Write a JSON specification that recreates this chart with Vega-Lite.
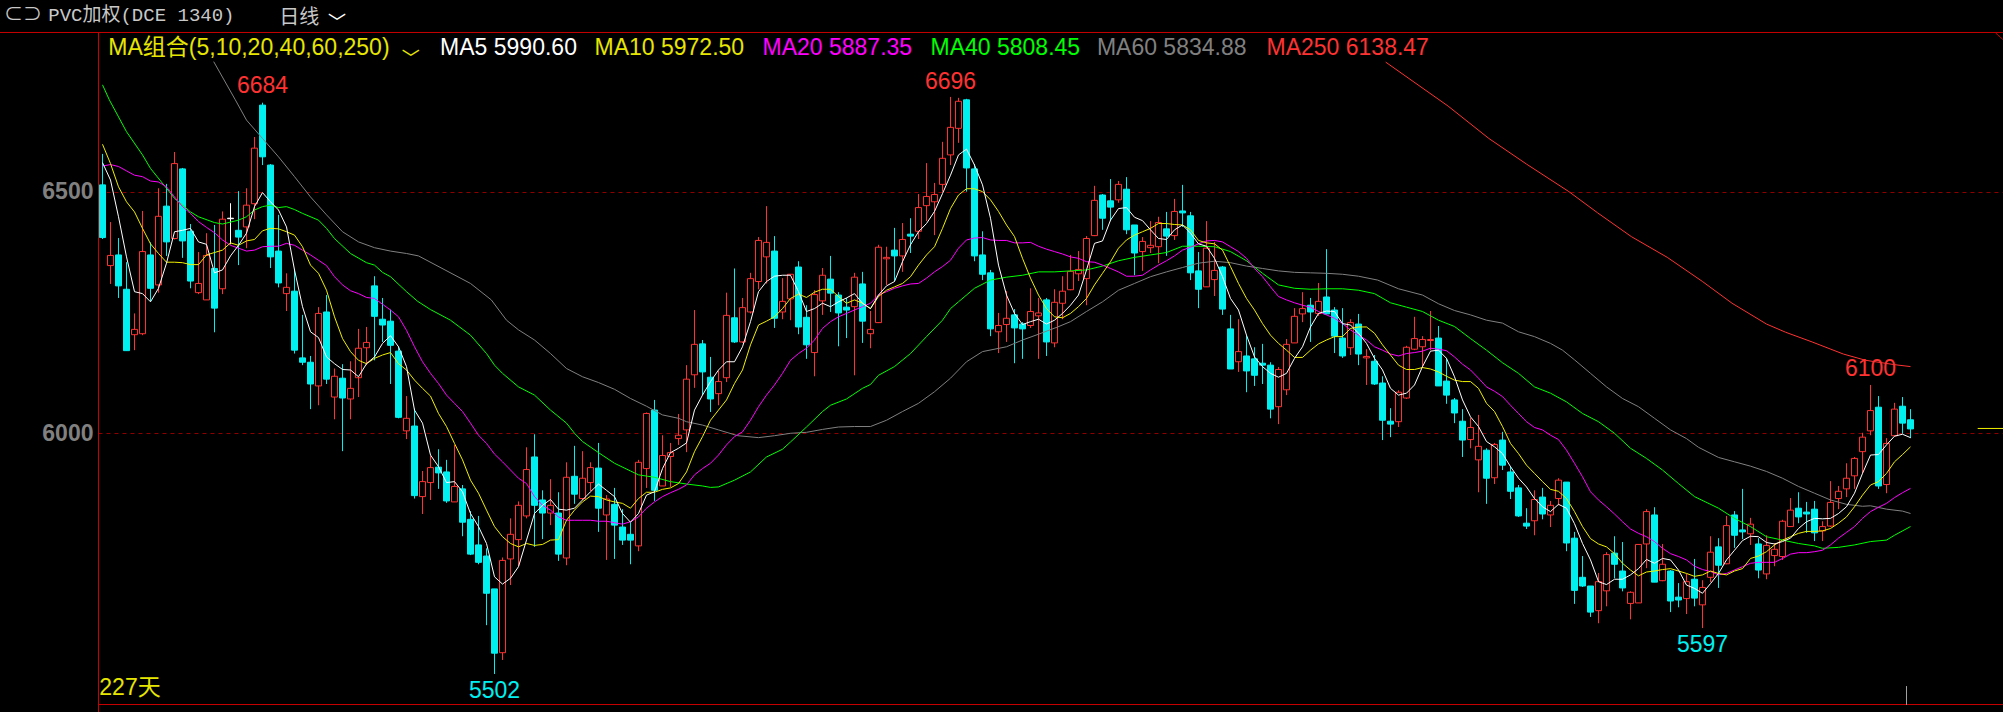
{"$schema":"https://vega.github.io/schema/vega-lite/v6.json","width":1905,"height":673,"autosize":"none","padding":{"left":98,"top":32,"right":0,"bottom":7},"background":"#000000","config":{"view":{"stroke":null},"axisY":{"grid":true,"gridColor":"#8c0000","gridDash":[4,4],"gridWidth":1,"domain":false,"ticks":false,"labelColor":"#808080","labelFont":"Liberation Sans","labelFontSize":23,"labelFontWeight":"bold","labelPadding":5,"format":"d"}},
"datasets":{"c":[
{"i":0,"o":6514,"h":6578,"l":6402,"c":6405,"d":"down","m5":6560,"m10":6598,"m20":6553},
{"i":1,"o":6347,"h":6437,"l":6309,"c":6368,"d":"up","m5":6524,"m10":6558,"m20":6556},
{"i":2,"o":6369,"h":6404,"l":6280,"c":6305,"d":"down","m5":6448,"m10":6510,"m20":6552},
{"i":3,"o":6298,"h":6354,"l":6171,"c":6171,"d":"down","m5":6365,"m10":6479,"m20":6543},
{"i":4,"o":6204,"h":6248,"l":6172,"c":6215,"d":"up","m5":6293,"m10":6458,"m20":6534},
{"i":5,"o":6206,"h":6460,"l":6203,"c":6376,"d":"up","m5":6289,"m10":6424,"m20":6531},
{"i":6,"o":6369,"h":6395,"l":6273,"c":6300,"d":"down","m5":6272,"m10":6392,"m20":6522},
{"i":7,"o":6307,"h":6507,"l":6291,"c":6449,"d":"up","m5":6300,"m10":6372,"m20":6520},
{"i":8,"o":6470,"h":6516,"l":6367,"c":6396,"d":"down","m5":6352,"m10":6354,"m20":6510},
{"i":9,"o":6403,"h":6582,"l":6401,"c":6558,"d":"up","m5":6417,"m10":6354,"m20":6489},
{"i":10,"o":6547,"h":6549,"l":6363,"c":6398,"d":"down","m5":6420,"m10":6353,"m20":6469},
{"i":11,"o":6418,"h":6433,"l":6300,"c":6315,"d":"down","m5":6424,"m10":6349,"m20":6455},
{"i":12,"o":6291,"h":6375,"l":6288,"c":6310,"d":"up","m5":6396,"m10":6349,"m20":6438},
{"i":13,"o":6276,"h":6414,"l":6276,"c":6368,"d":"up","m5":6391,"m10":6369,"m20":6426},
{"i":14,"o":6341,"h":6431,"l":6209,"c":6259,"d":"down","m5":6332,"m10":6374,"m20":6415},
{"i":15,"o":6299,"h":6459,"l":6288,"c":6443,"d":"up","m5":6338,"m10":6379,"m20":6400},
{"i":16,"o":6445,"h":6476,"l":6391,"c":6444,"d":"flat","m5":6367,"m10":6394,"m20":6389},
{"i":17,"o":6420,"h":6501,"l":6348,"c":6406,"d":"down","m5":6389,"m10":6389,"m20":6383},
{"i":18,"o":6427,"h":6507,"l":6383,"c":6472,"d":"up","m5":6414,"m10":6398,"m20":6377},
{"i":19,"o":6475,"h":6613,"l":6443,"c":6590,"d":"up","m5":6469,"m10":6401,"m20":6379},
{"i":20,"o":6679,"h":6684,"l":6555,"c":6572,"d":"down","m5":6498,"m10":6419,"m20":6386},
{"i":21,"o":6555,"h":6557,"l":6342,"c":6365,"d":"down","m5":6479,"m10":6424,"m20":6387},
{"i":22,"o":6377,"h":6452,"l":6302,"c":6311,"d":"down","m5":6462,"m10":6423,"m20":6387},
{"i":23,"o":6289,"h":6331,"l":6253,"c":6302,"d":"up","m5":6427,"m10":6417,"m20":6393},
{"i":24,"o":6294,"h":6340,"l":6165,"c":6172,"d":"down","m5":6338,"m10":6410,"m20":6389},
{"i":25,"o":6156,"h":6245,"l":6141,"c":6147,"d":"down","m5":6262,"m10":6386,"m20":6379},
{"i":26,"o":6147,"h":6160,"l":6050,"c":6102,"d":"down","m5":6210,"m10":6348,"m20":6369},
{"i":27,"o":6098,"h":6261,"l":6058,"c":6248,"d":"up","m5":6198,"m10":6331,"m20":6358},
{"i":28,"o":6251,"h":6286,"l":6102,"c":6112,"d":"down","m5":6158,"m10":6296,"m20":6347},
{"i":29,"o":6075,"h":6134,"l":6029,"c":6118,"d":"up","m5":6144,"m10":6241,"m20":6324},
{"i":30,"o":6114,"h":6143,"l":5963,"c":6073,"d":"down","m5":6132,"m10":6196,"m20":6307},
{"i":31,"o":6071,"h":6149,"l":6029,"c":6093,"d":"up","m5":6131,"m10":6169,"m20":6295},
{"i":32,"o":6115,"h":6216,"l":6075,"c":6176,"d":"up","m5":6117,"m10":6151,"m20":6289},
{"i":33,"o":6177,"h":6220,"l":6141,"c":6188,"d":"up","m5":6144,"m10":6144,"m20":6281},
{"i":34,"o":6305,"h":6325,"l":6151,"c":6242,"d":"down","m5":6158,"m10":6155,"m20":6279},
{"i":35,"o":6236,"h":6280,"l":6189,"c":6224,"d":"down","m5":6186,"m10":6162,"m20":6267},
{"i":36,"o":6232,"h":6256,"l":6102,"c":6182,"d":"down","m5":6202,"m10":6167,"m20":6255},
{"i":37,"o":6170,"h":6180,"l":6031,"c":6033,"d":"down","m5":6179,"m10":6144,"m20":6241},
{"i":38,"o":6005,"h":6077,"l":5988,"c":6031,"d":"up","m5":6138,"m10":6131,"m20":6213},
{"i":39,"o":6015,"h":6051,"l":5865,"c":5871,"d":"down","m5":6048,"m10":6110,"m20":6179},
{"i":40,"o":5869,"h":5922,"l":5833,"c":5900,"d":"up","m5":6021,"m10":6093,"m20":6148},
{"i":41,"o":5898,"h":5953,"l":5862,"c":5929,"d":"up","m5":5955,"m10":6077,"m20":6124},
{"i":42,"o":5930,"h":5967,"l":5885,"c":5918,"d":"down","m5":5931,"m10":6041,"m20":6103},
{"i":43,"o":5920,"h":5945,"l":5856,"c":5860,"d":"down","m5":5898,"m10":6014,"m20":6079},
{"i":44,"o":5858,"h":5976,"l":5858,"c":5890,"d":"up","m5":5900,"m10":5979,"m20":6062},
{"i":45,"o":5885,"h":5893,"l":5787,"c":5816,"d":"down","m5":5879,"m10":5945,"m20":6045},
{"i":46,"o":5822,"h":5839,"l":5748,"c":5750,"d":"down","m5":5834,"m10":5903,"m20":6021},
{"i":47,"o":5769,"h":5829,"l":5729,"c":5733,"d":"down","m5":5807,"m10":5876,"m20":5996},
{"i":48,"o":5746,"h":5762,"l":5603,"c":5669,"d":"down","m5":5772,"m10":5841,"m20":5979},
{"i":49,"o":5678,"h":5678,"l":5502,"c":5545,"d":"down","m5":5703,"m10":5807,"m20":5957},
{"i":50,"o":5546,"h":5743,"l":5531,"c":5737,"d":"up","m5":5688,"m10":5786,"m20":5941},
{"i":51,"o":5740,"h":5824,"l":5686,"c":5791,"d":"up","m5":5700,"m10":5772,"m20":5924},
{"i":52,"o":5780,"h":5859,"l":5725,"c":5851,"d":"up","m5":5724,"m10":5765,"m20":5907},
{"i":53,"o":5829,"h":5971,"l":5824,"c":5925,"d":"up","m5":5779,"m10":5772,"m20":5896},
{"i":54,"o":5951,"h":5998,"l":5765,"c":5851,"d":"down","m5":5834,"m10":5768,"m20":5869},
{"i":55,"o":5862,"h":5882,"l":5781,"c":5835,"d":"down","m5":5851,"m10":5770,"m20":5851},
{"i":56,"o":5835,"h":5905,"l":5810,"c":5851,"d":"up","m5":5863,"m10":5779,"m20":5841},
{"i":57,"o":5835,"h":5878,"l":5736,"c":5750,"d":"down","m5":5843,"m10":5780,"m20":5827},
{"i":58,"o":5742,"h":5940,"l":5727,"c":5909,"d":"up","m5":5841,"m10":5820,"m20":5820},
{"i":59,"o":5911,"h":5974,"l":5854,"c":5874,"d":"down","m5":5845,"m10":5841,"m20":5820},
{"i":60,"o":5865,"h":5963,"l":5862,"c":5907,"d":"up","m5":5862,"m10":5858,"m20":5820},
{"i":61,"o":5898,"h":5940,"l":5880,"c":5929,"d":"up","m5":5879,"m10":5870,"m20":5820},
{"i":62,"o":5928,"h":5980,"l":5796,"c":5845,"d":"down","m5":5895,"m10":5869,"m20":5818},
{"i":63,"o":5831,"h":5872,"l":5738,"c":5864,"d":"up","m5":5882,"m10":5862,"m20":5818},
{"i":64,"o":5853,"h":5887,"l":5740,"c":5810,"d":"down","m5":5869,"m10":5858,"m20":5815},
{"i":65,"o":5806,"h":5843,"l":5769,"c":5779,"d":"down","m5":5834,"m10":5855,"m20":5812},
{"i":66,"o":5791,"h":5816,"l":5729,"c":5779,"d":"down","m5":5816,"m10":5845,"m20":5817},
{"i":67,"o":5767,"h":5945,"l":5756,"c":5940,"d":"up","m5":5834,"m10":5865,"m20":5827},
{"i":68,"o":5927,"h":6043,"l":5887,"c":6041,"d":"up","m5":5872,"m10":5878,"m20":5845},
{"i":69,"o":6048,"h":6069,"l":5860,"c":5882,"d":"down","m5":5879,"m10":5878,"m20":5858},
{"i":70,"o":5891,"h":5996,"l":5891,"c":5954,"d":"up","m5":5927,"m10":5884,"m20":5869},
{"i":71,"o":5952,"h":5980,"l":5889,"c":5960,"d":"up","m5":5960,"m10":5887,"m20":5877},
{"i":72,"o":5989,"h":6040,"l":5976,"c":5996,"d":"up","m5":5969,"m10":5896,"m20":5884},
{"i":73,"o":6007,"h":6141,"l":5961,"c":6112,"d":"up","m5":5980,"m10":5920,"m20":5893},
{"i":74,"o":6121,"h":6255,"l":6094,"c":6184,"d":"up","m5":6048,"m10":5962,"m20":5914},
{"i":75,"o":6185,"h":6193,"l":6079,"c":6127,"d":"down","m5":6079,"m10":5993,"m20":5927},
{"i":76,"o":6116,"h":6158,"l":6044,"c":6071,"d":"down","m5":6107,"m10":6027,"m20":5938},
{"i":77,"o":6082,"h":6129,"l":6058,"c":6107,"d":"up","m5":6131,"m10":6048,"m20":5955},
{"i":78,"o":6115,"h":6291,"l":6106,"c":6244,"d":"up","m5":6148,"m10":6069,"m20":5976},
{"i":79,"o":6239,"h":6341,"l":6187,"c":6189,"d":"down","m5":6148,"m10":6103,"m20":5993},
{"i":80,"o":6189,"h":6280,"l":6187,"c":6260,"d":"up","m5":6179,"m10":6131,"m20":6003},
{"i":81,"o":6251,"h":6332,"l":6248,"c":6320,"d":"up","m5":6231,"m10":6183,"m20":6027},
{"i":82,"o":6314,"h":6406,"l":6298,"c":6399,"d":"up","m5":6293,"m10":6224,"m20":6055},
{"i":83,"o":6365,"h":6470,"l":6310,"c":6395,"d":"up","m5":6314,"m10":6232,"m20":6079},
{"i":84,"o":6377,"h":6408,"l":6218,"c":6238,"d":"down","m5":6325,"m10":6241,"m20":6100},
{"i":85,"o":6251,"h":6321,"l":6236,"c":6273,"d":"up","m5":6327,"m10":6258,"m20":6124},
{"i":86,"o":6278,"h":6329,"l":6234,"c":6329,"d":"up","m5":6327,"m10":6279,"m20":6151},
{"i":87,"o":6344,"h":6356,"l":6205,"c":6220,"d":"down","m5":6293,"m10":6288,"m20":6165},
{"i":88,"o":6240,"h":6265,"l":6154,"c":6183,"d":"down","m5":6252,"m10":6281,"m20":6176},
{"i":89,"o":6167,"h":6296,"l":6118,"c":6287,"d":"up","m5":6258,"m10":6292,"m20":6193},
{"i":90,"o":6274,"h":6342,"l":6245,"c":6327,"d":"up","m5":6269,"m10":6298,"m20":6217},
{"i":91,"o":6319,"h":6367,"l":6251,"c":6290,"d":"down","m5":6262,"m10":6298,"m20":6231},
{"i":92,"o":6286,"h":6292,"l":6180,"c":6249,"d":"down","m5":6272,"m10":6283,"m20":6241},
{"i":93,"o":6261,"h":6280,"l":6197,"c":6255,"d":"down","m5":6280,"m10":6269,"m20":6248},
{"i":94,"o":6262,"h":6332,"l":6120,"c":6323,"d":"up","m5":6289,"m10":6276,"m20":6255},
{"i":95,"o":6309,"h":6334,"l":6187,"c":6232,"d":"down","m5":6269,"m10":6269,"m20":6262},
{"i":96,"o":6206,"h":6253,"l":6176,"c":6215,"d":"up","m5":6258,"m10":6258,"m20":6269},
{"i":97,"o":6229,"h":6390,"l":6228,"c":6385,"d":"up","m5":6286,"m10":6283,"m20":6286},
{"i":98,"o":6361,"h":6386,"l":6307,"c":6364,"d":"up","m5":6305,"m10":6296,"m20":6293},
{"i":99,"o":6379,"h":6425,"l":6314,"c":6367,"d":"down","m5":6314,"m10":6303,"m20":6300},
{"i":100,"o":6367,"h":6435,"l":6334,"c":6401,"d":"up","m5":6355,"m10":6310,"m20":6305},
{"i":101,"o":6412,"h":6445,"l":6373,"c":6408,"d":"down","m5":6390,"m10":6324,"m20":6309},
{"i":102,"o":6418,"h":6495,"l":6402,"c":6467,"d":"up","m5":6417,"m10":6348,"m20":6310},
{"i":103,"o":6471,"h":6559,"l":6439,"c":6490,"d":"up","m5":6434,"m10":6369,"m20":6321},
{"i":104,"o":6479,"h":6518,"l":6410,"c":6494,"d":"up","m5":6459,"m10":6386,"m20":6334},
{"i":105,"o":6515,"h":6603,"l":6500,"c":6569,"d":"up","m5":6496,"m10":6424,"m20":6345},
{"i":106,"o":6576,"h":6696,"l":6555,"c":6633,"d":"up","m5":6534,"m10":6465,"m20":6358},
{"i":107,"o":6631,"h":6694,"l":6601,"c":6687,"d":"up","m5":6576,"m10":6493,"m20":6383},
{"i":108,"o":6690,"h":6692,"l":6500,"c":6549,"d":"down","m5":6588,"m10":6506,"m20":6400},
{"i":109,"o":6547,"h":6557,"l":6356,"c":6367,"d":"down","m5":6555,"m10":6506,"m20":6404},
{"i":110,"o":6369,"h":6418,"l":6317,"c":6329,"d":"down","m5":6514,"m10":6500,"m20":6405},
{"i":111,"o":6332,"h":6338,"l":6201,"c":6216,"d":"down","m5":6445,"m10":6483,"m20":6400},
{"i":112,"o":6210,"h":6249,"l":6166,"c":6223,"d":"up","m5":6348,"m10":6459,"m20":6399},
{"i":113,"o":6225,"h":6294,"l":6189,"c":6238,"d":"up","m5":6286,"m10":6431,"m20":6399},
{"i":114,"o":6245,"h":6257,"l":6145,"c":6218,"d":"down","m5":6248,"m10":6407,"m20":6394},
{"i":115,"o":6226,"h":6230,"l":6154,"c":6216,"d":"down","m5":6225,"m10":6362,"m20":6394},
{"i":116,"o":6223,"h":6300,"l":6218,"c":6252,"d":"up","m5":6231,"m10":6321,"m20":6395},
{"i":117,"o":6243,"h":6280,"l":6154,"c":6249,"d":"up","m5":6236,"m10":6286,"m20":6387},
{"i":118,"o":6276,"h":6280,"l":6160,"c":6189,"d":"down","m5":6226,"m10":6258,"m20":6381},
{"i":119,"o":6187,"h":6298,"l":6178,"c":6271,"d":"up","m5":6234,"m10":6241,"m20":6376},
{"i":120,"o":6269,"h":6325,"l":6236,"c":6294,"d":"up","m5":6248,"m10":6239,"m20":6371},
{"i":121,"o":6297,"h":6369,"l":6296,"c":6335,"d":"up","m5":6265,"m10":6248,"m20":6365},
{"i":122,"o":6330,"h":6377,"l":6315,"c":6339,"d":"up","m5":6286,"m10":6262,"m20":6362},
{"i":123,"o":6320,"h":6408,"l":6265,"c":6403,"d":"up","m5":6338,"m10":6279,"m20":6355},
{"i":124,"o":6409,"h":6512,"l":6408,"c":6482,"d":"up","m5":6393,"m10":6307,"m20":6354},
{"i":125,"o":6493,"h":6495,"l":6421,"c":6445,"d":"down","m5":6398,"m10":6331,"m20":6348},
{"i":126,"o":6481,"h":6526,"l":6439,"c":6468,"d":"down","m5":6441,"m10":6355,"m20":6341},
{"i":127,"o":6483,"h":6522,"l":6477,"c":6515,"d":"up","m5":6465,"m10":6383,"m20":6334},
{"i":128,"o":6505,"h":6530,"l":6412,"c":6421,"d":"down","m5":6467,"m10":6400,"m20":6325},
{"i":129,"o":6431,"h":6431,"l":6327,"c":6373,"d":"down","m5":6447,"m10":6410,"m20":6325},
{"i":130,"o":6376,"h":6406,"l":6336,"c":6397,"d":"up","m5":6440,"m10":6417,"m20":6327},
{"i":131,"o":6384,"h":6439,"l":6373,"c":6389,"d":"up","m5":6421,"m10":6424,"m20":6338},
{"i":132,"o":6386,"h":6448,"l":6352,"c":6436,"d":"up","m5":6403,"m10":6434,"m20":6348},
{"i":133,"o":6423,"h":6458,"l":6367,"c":6408,"d":"down","m5":6401,"m10":6434,"m20":6357},
{"i":134,"o":6409,"h":6485,"l":6400,"c":6459,"d":"up","m5":6421,"m10":6432,"m20":6367},
{"i":135,"o":6460,"h":6514,"l":6427,"c":6456,"d":"down","m5":6431,"m10":6431,"m20":6379},
{"i":136,"o":6450,"h":6458,"l":6317,"c":6332,"d":"down","m5":6414,"m10":6421,"m20":6385},
{"i":137,"o":6336,"h":6375,"l":6259,"c":6298,"d":"down","m5":6392,"m10":6399,"m20":6392},
{"i":138,"o":6303,"h":6439,"l":6303,"c":6383,"d":"up","m5":6387,"m10":6394,"m20":6398},
{"i":139,"o":6318,"h":6396,"l":6284,"c":6337,"d":"up","m5":6362,"m10":6392,"m20":6399},
{"i":140,"o":6344,"h":6346,"l":6245,"c":6257,"d":"down","m5":6324,"m10":6379,"m20":6396},
{"i":141,"o":6216,"h":6245,"l":6133,"c":6133,"d":"down","m5":6279,"m10":6345,"m20":6386},
{"i":142,"o":6148,"h":6236,"l":6127,"c":6169,"d":"up","m5":6255,"m10":6310,"m20":6376},
{"i":143,"o":6160,"h":6203,"l":6085,"c":6129,"d":"down","m5":6203,"m10":6279,"m20":6362},
{"i":144,"o":6154,"h":6178,"l":6098,"c":6120,"d":"down","m5":6158,"m10":6255,"m20":6341},
{"i":145,"o":6145,"h":6185,"l":6102,"c":6141,"d":"down","m5":6138,"m10":6227,"m20":6324},
{"i":146,"o":6141,"h":6147,"l":6031,"c":6050,"d":"down","m5":6124,"m10":6203,"m20":6303},
{"i":147,"o":6055,"h":6137,"l":6019,"c":6132,"d":"up","m5":6116,"m10":6186,"m20":6283},
{"i":148,"o":6090,"h":6195,"l":6079,"c":6184,"d":"up","m5":6124,"m10":6172,"m20":6276},
{"i":149,"o":6187,"h":6259,"l":6187,"c":6242,"d":"up","m5":6155,"m10":6157,"m20":6270},
{"i":150,"o":6247,"h":6292,"l":6230,"c":6258,"d":"up","m5":6179,"m10":6157,"m20":6265},
{"i":151,"o":6265,"h":6280,"l":6189,"c":6251,"d":"down","m5":6220,"m10":6172,"m20":6261},
{"i":152,"o":6248,"h":6311,"l":6243,"c":6273,"d":"up","m5":6248,"m10":6185,"m20":6252},
{"i":153,"o":6282,"h":6381,"l":6246,"c":6247,"d":"down","m5":6253,"m10":6193,"m20":6245},
{"i":154,"o":6255,"h":6261,"l":6166,"c":6201,"d":"down","m5":6252,"m10":6200,"m20":6238},
{"i":155,"o":6197,"h":6259,"l":6156,"c":6160,"d":"down","m5":6227,"m10":6200,"m20":6227},
{"i":156,"o":6177,"h":6236,"l":6162,"c":6229,"d":"up","m5":6224,"m10":6217,"m20":6214},
{"i":157,"o":6226,"h":6247,"l":6141,"c":6164,"d":"down","m5":6207,"m10":6220,"m20":6203},
{"i":158,"o":6156,"h":6174,"l":6100,"c":6159,"d":"up","m5":6186,"m10":6220,"m20":6193},
{"i":159,"o":6149,"h":6162,"l":6100,"c":6102,"d":"down","m5":6155,"m10":6207,"m20":6179},
{"i":160,"o":6104,"h":6118,"l":5986,"c":6027,"d":"down","m5":6131,"m10":6183,"m20":6172},
{"i":161,"o":6025,"h":6052,"l":5992,"c":6019,"d":"down","m5":6093,"m10":6162,"m20":6164},
{"i":162,"o":6024,"h":6089,"l":6013,"c":6085,"d":"up","m5":6079,"m10":6141,"m20":6160},
{"i":163,"o":6073,"h":6181,"l":6071,"c":6178,"d":"up","m5":6083,"m10":6132,"m20":6165},
{"i":164,"o":6174,"h":6241,"l":6172,"c":6196,"d":"up","m5":6100,"m10":6132,"m20":6167},
{"i":165,"o":6179,"h":6201,"l":6135,"c":6194,"d":"up","m5":6138,"m10":6136,"m20":6170},
{"i":166,"o":6192,"h":6253,"l":6172,"c":6194,"d":"up","m5":6170,"m10":6133,"m20":6176},
{"i":167,"o":6197,"h":6222,"l":6098,"c":6098,"d":"down","m5":6172,"m10":6127,"m20":6174},
{"i":168,"o":6108,"h":6156,"l":6061,"c":6079,"d":"down","m5":6155,"m10":6118,"m20":6171},
{"i":169,"o":6069,"h":6073,"l":6021,"c":6042,"d":"down","m5":6117,"m10":6110,"m20":6158},
{"i":170,"o":6025,"h":6050,"l":5951,"c":5986,"d":"down","m5":6069,"m10":6107,"m20":6143},
{"i":171,"o":5987,"h":6032,"l":5969,"c":6012,"d":"up","m5":6034,"m10":6107,"m20":6131},
{"i":172,"o":5945,"h":6038,"l":5878,"c":5973,"d":"up","m5":6014,"m10":6093,"m20":6114},
{"i":173,"o":5965,"h":5969,"l":5854,"c":5907,"d":"down","m5":5983,"m10":6062,"m20":6096},
{"i":174,"o":5908,"h":5980,"l":5895,"c":5977,"d":"up","m5":5972,"m10":6045,"m20":6087},
{"i":175,"o":5986,"h":6003,"l":5924,"c":5934,"d":"down","m5":5958,"m10":6014,"m20":6076},
{"i":176,"o":5920,"h":5932,"l":5864,"c":5880,"d":"down","m5":5931,"m10":5979,"m20":6058},
{"i":177,"o":5887,"h":5893,"l":5827,"c":5829,"d":"down","m5":5907,"m10":5958,"m20":6041},
{"i":178,"o":5814,"h":5845,"l":5802,"c":5808,"d":"down","m5":5889,"m10":5934,"m20":6024},
{"i":179,"o":5819,"h":5882,"l":5789,"c":5863,"d":"up","m5":5865,"m10":5917,"m20":6012},
{"i":180,"o":5868,"h":5887,"l":5822,"c":5833,"d":"down","m5":5848,"m10":5900,"m20":6007},
{"i":181,"o":5831,"h":5860,"l":5806,"c":5851,"d":"up","m5":5838,"m10":5884,"m20":5996},
{"i":182,"o":5865,"h":5907,"l":5851,"c":5903,"d":"up","m5":5853,"m10":5880,"m20":5987},
{"i":183,"o":5899,"h":5899,"l":5756,"c":5773,"d":"down","m5":5845,"m10":5865,"m20":5965},
{"i":184,"o":5783,"h":5796,"l":5647,"c":5675,"d":"down","m5":5813,"m10":5838,"m20":5938},
{"i":185,"o":5702,"h":5746,"l":5682,"c":5684,"d":"down","m5":5772,"m10":5807,"m20":5910},
{"i":186,"o":5684,"h":5684,"l":5620,"c":5630,"d":"down","m5":5738,"m10":5782,"m20":5879},
{"i":187,"o":5633,"h":5711,"l":5607,"c":5693,"d":"up","m5":5693,"m10":5771,"m20":5862},
{"i":188,"o":5674,"h":5754,"l":5642,"c":5749,"d":"up","m5":5687,"m10":5765,"m20":5848},
{"i":189,"o":5752,"h":5787,"l":5700,"c":5729,"d":"down","m5":5698,"m10":5751,"m20":5833},
{"i":190,"o":5715,"h":5775,"l":5673,"c":5680,"d":"down","m5":5698,"m10":5731,"m20":5817},
{"i":191,"o":5648,"h":5673,"l":5615,"c":5671,"d":"up","m5":5707,"m10":5717,"m20":5802},
{"i":192,"o":5649,"h":5770,"l":5649,"c":5770,"d":"up","m5":5720,"m10":5705,"m20":5793},
{"i":193,"o":5771,"h":5843,"l":5721,"c":5838,"d":"up","m5":5739,"m10":5713,"m20":5786},
{"i":194,"o":5831,"h":5847,"l":5692,"c":5692,"d":"down","m5":5731,"m10":5715,"m20":5776},
{"i":195,"o":5695,"h":5771,"l":5694,"c":5729,"d":"up","m5":5741,"m10":5718,"m20":5762},
{"i":196,"o":5715,"h":5717,"l":5630,"c":5653,"d":"down","m5":5738,"m10":5720,"m20":5751},
{"i":197,"o":5661,"h":5690,"l":5640,"c":5655,"d":"down","m5":5717,"m10":5715,"m20":5745},
{"i":198,"o":5658,"h":5709,"l":5626,"c":5693,"d":"up","m5":5686,"m10":5710,"m20":5738},
{"i":199,"o":5698,"h":5740,"l":5642,"c":5659,"d":"down","m5":5679,"m10":5704,"m20":5725},
{"i":200,"o":5645,"h":5696,"l":5597,"c":5681,"d":"up","m5":5669,"m10":5707,"m20":5718},
{"i":201,"o":5702,"h":5787,"l":5692,"c":5754,"d":"up","m5":5689,"m10":5715,"m20":5714},
{"i":202,"o":5765,"h":5783,"l":5680,"c":5727,"d":"down","m5":5710,"m10":5710,"m20":5707},
{"i":203,"o":5730,"h":5829,"l":5729,"c":5809,"d":"up","m5":5738,"m10":5707,"m20":5710},
{"i":204,"o":5831,"h":5839,"l":5763,"c":5789,"d":"down","m5":5758,"m10":5715,"m20":5717},
{"i":205,"o":5800,"h":5885,"l":5781,"c":5796,"d":"down","m5":5778,"m10":5720,"m20":5724},
{"i":206,"o":5792,"h":5825,"l":5769,"c":5812,"d":"up","m5":5787,"m10":5741,"m20":5731},
{"i":207,"o":5771,"h":5783,"l":5700,"c":5717,"d":"down","m5":5786,"m10":5746,"m20":5733},
{"i":208,"o":5709,"h":5789,"l":5698,"c":5768,"d":"up","m5":5774,"m10":5755,"m20":5733},
{"i":209,"o":5747,"h":5773,"l":5725,"c":5760,"d":"up","m5":5771,"m10":5769,"m20":5733},
{"i":210,"o":5745,"h":5821,"l":5738,"c":5818,"d":"up","m5":5776,"m10":5779,"m20":5741},
{"i":211,"o":5807,"h":5866,"l":5806,"c":5841,"d":"up","m5":5783,"m10":5786,"m20":5750},
{"i":212,"o":5845,"h":5878,"l":5814,"c":5827,"d":"down","m5":5803,"m10":5793,"m20":5753},
{"i":213,"o":5837,"h":5858,"l":5794,"c":5833,"d":"down","m5":5817,"m10":5797,"m20":5753},
{"i":214,"o":5843,"h":5860,"l":5777,"c":5794,"d":"down","m5":5824,"m10":5797,"m20":5755},
{"i":215,"o":5798,"h":5818,"l":5777,"c":5807,"d":"up","m5":5823,"m10":5798,"m20":5758},
{"i":216,"o":5808,"h":5901,"l":5806,"c":5857,"d":"up","m5":5824,"m10":5803,"m20":5769},
{"i":217,"o":5865,"h":5891,"l":5843,"c":5880,"d":"up","m5":5834,"m10":5814,"m20":5783},
{"i":218,"o":5885,"h":5938,"l":5868,"c":5907,"d":"up","m5":5848,"m10":5827,"m20":5795},
{"i":219,"o":5912,"h":5951,"l":5885,"c":5948,"d":"up","m5":5876,"m10":5848,"m20":5807},
{"i":220,"o":5962,"h":6001,"l":5916,"c":5992,"d":"up","m5":5917,"m10":5872,"m20":5824},
{"i":221,"o":6005,"h":6100,"l":5996,"c":6047,"d":"up","m5":5955,"m10":5893,"m20":5838},
{"i":222,"o":6054,"h":6077,"l":5885,"c":5891,"d":"down","m5":5956,"m10":5900,"m20":5847},
{"i":223,"o":5894,"h":5990,"l":5876,"c":5979,"d":"up","m5":5976,"m10":5917,"m20":5855},
{"i":224,"o":5995,"h":6063,"l":5994,"c":6050,"d":"up","m5":5994,"m10":5941,"m20":5867},
{"i":225,"o":6056,"h":6075,"l":5999,"c":6021,"d":"down","m5":5998,"m10":5956,"m20":5877},
{"i":226,"o":6028,"h":6050,"l":5990,"c":6009,"d":"down","m5":5991,"m10":5972,"m20":5886}
],
"m40":[
{"i":0,"v":6721},{"i":0.85,"v":6690},{"i":3,"v":6624},{"i":5,"v":6576},{"i":6,"v":6548},{"i":8,"v":6507},{"i":9,"v":6486},{"i":11,"v":6458},{"i":12,"v":6448},{"i":14,"v":6436},{"i":15,"v":6433},{"i":17,"v":6441},{"i":18,"v":6448},{"i":19,"v":6462},{"i":20,"v":6469},{"i":21,"v":6472},{"i":22,"v":6467},{"i":23,"v":6469},{"i":24,"v":6463},{"i":25,"v":6455},{"i":27,"v":6441},{"i":28,"v":6424},{"i":29,"v":6403},{"i":31,"v":6372},{"i":33,"v":6353},{"i":34,"v":6348},{"i":35,"v":6333},{"i":36,"v":6324},{"i":38,"v":6293},{"i":39.4,"v":6273},{"i":41,"v":6256},{"i":43.5,"v":6234},{"i":46,"v":6203},{"i":48,"v":6165},{"i":49,"v":6141},{"i":50,"v":6124},{"i":52,"v":6096},{"i":54,"v":6079},{"i":56,"v":6048},{"i":58,"v":6021},{"i":59,"v":6000},{"i":60,"v":5983},{"i":62,"v":5960},{"i":64,"v":5938},{"i":66,"v":5922},{"i":67,"v":5914},{"i":69,"v":5909},{"i":71,"v":5900},{"i":73,"v":5895},{"i":75,"v":5891},{"i":76,"v":5888},{"i":77,"v":5889},{"i":79,"v":5903},{"i":81,"v":5920},{"i":83,"v":5951},{"i":85,"v":5967},{"i":86,"v":5982},{"i":88,"v":6013},{"i":90,"v":6045},{"i":91,"v":6058},{"i":93,"v":6071},{"i":95,"v":6093},{"i":96,"v":6101},{"i":97,"v":6120},{"i":99,"v":6138},{"i":101,"v":6165},{"i":103,"v":6200},{"i":105,"v":6234},{"i":106,"v":6258},{"i":107,"v":6272},{"i":109,"v":6300},{"i":111,"v":6317},{"i":113,"v":6323},{"i":115,"v":6327},{"i":117,"v":6334},{"i":119,"v":6334},{"i":121,"v":6336},{"i":123,"v":6338},{"i":125,"v":6346},{"i":127,"v":6357},{"i":129,"v":6364},{"i":131,"v":6369},{"i":133,"v":6374},{"i":135,"v":6387},{"i":137,"v":6387},{"i":139,"v":6386},{"i":141,"v":6376},{"i":143,"v":6357},{"i":145,"v":6331},{"i":147,"v":6307},{"i":149,"v":6300},{"i":151,"v":6298},{"i":153,"v":6299},{"i":155,"v":6299},{"i":157,"v":6296},{"i":159,"v":6289},{"i":161,"v":6270},{"i":163,"v":6261},{"i":165,"v":6252},{"i":167,"v":6234},{"i":169,"v":6221},{"i":171,"v":6196},{"i":173,"v":6172},{"i":175,"v":6146},{"i":177,"v":6124},{"i":179,"v":6096},{"i":181,"v":6083},{"i":183,"v":6065},{"i":185,"v":6041},{"i":187,"v":6024},{"i":189,"v":6000},{"i":191,"v":5969},{"i":193,"v":5948},{"i":195,"v":5924},{"i":197,"v":5896},{"i":199,"v":5869},{"i":202,"v":5845},{"i":204,"v":5824},{"i":206,"v":5807},{"i":208,"v":5786},{"i":210,"v":5779},{"i":212,"v":5772},{"i":214,"v":5767},{"i":215,"v":5762},{"i":217,"v":5764},{"i":219,"v":5769},{"i":221,"v":5776},{"i":223,"v":5779},{"i":224,"v":5789},{"i":226,"v":5807}
],
"m60":[
{"i":13.9,"v":6769},{"i":16.6,"v":6690},{"i":18,"v":6648},{"i":20,"v":6610},{"i":22,"v":6572},{"i":24,"v":6531},{"i":26,"v":6489},{"i":28,"v":6452},{"i":30,"v":6417},{"i":32,"v":6396},{"i":34,"v":6384},{"i":36,"v":6377},{"i":38,"v":6372},{"i":39.5,"v":6367},{"i":46,"v":6310},{"i":48.6,"v":6276},{"i":50.5,"v":6234},{"i":52,"v":6214},{"i":54,"v":6193},{"i":56,"v":6165},{"i":58,"v":6134},{"i":60,"v":6117},{"i":62,"v":6105},{"i":64,"v":6091},{"i":66,"v":6072},{"i":68,"v":6056},{"i":70,"v":6038},{"i":72,"v":6031},{"i":73,"v":6024},{"i":75,"v":6017},{"i":77,"v":6007},{"i":79.4,"v":5995},{"i":82,"v":5991},{"i":84,"v":5995},{"i":86,"v":6000},{"i":88,"v":6002},{"i":90,"v":6008},{"i":92,"v":6013},{"i":94,"v":6014},{"i":96,"v":6014},{"i":98,"v":6027},{"i":100,"v":6045},{"i":102,"v":6062},{"i":104,"v":6086},{"i":106,"v":6114},{"i":108,"v":6148},{"i":110,"v":6169},{"i":113,"v":6179},{"i":115,"v":6193},{"i":117,"v":6205},{"i":119.4,"v":6220},{"i":121,"v":6231},{"i":123,"v":6252},{"i":125,"v":6272},{"i":127,"v":6296},{"i":129,"v":6310},{"i":131,"v":6324},{"i":133,"v":6334},{"i":135,"v":6343},{"i":137,"v":6352},{"i":139,"v":6356},{"i":141,"v":6353},{"i":143,"v":6346},{"i":145,"v":6341},{"i":147,"v":6336},{"i":149,"v":6333},{"i":151,"v":6332},{"i":153,"v":6331},{"i":155,"v":6329},{"i":157,"v":6325},{"i":159.4,"v":6317},{"i":162,"v":6299},{"i":165,"v":6286},{"i":167,"v":6268},{"i":169,"v":6254},{"i":171,"v":6245},{"i":173,"v":6234},{"i":175,"v":6228},{"i":177,"v":6210},{"i":179,"v":6200},{"i":181,"v":6186},{"i":182.5,"v":6172},{"i":184,"v":6152},{"i":186,"v":6124},{"i":188,"v":6096},{"i":190,"v":6072},{"i":192,"v":6055},{"i":194,"v":6031},{"i":196,"v":6007},{"i":198,"v":5989},{"i":199.5,"v":5971},{"i":202,"v":5950},{"i":204,"v":5941},{"i":206,"v":5932},{"i":208,"v":5921},{"i":210,"v":5907},{"i":212,"v":5890},{"i":214,"v":5876},{"i":216,"v":5862},{"i":218,"v":5853},{"i":220,"v":5849},{"i":221,"v":5850},{"i":223,"v":5843},{"i":225,"v":5839},{"i":226,"v":5834}
],
"m250":[
{"i":160.4,"v":6768},{"i":168.2,"v":6677},{"i":173.3,"v":6610},{"i":178,"v":6557},{"i":183.3,"v":6500},{"i":186.9,"v":6456},{"i":191.1,"v":6407},{"i":195.6,"v":6364},{"i":200,"v":6314},{"i":203.7,"v":6269},{"i":208,"v":6226},{"i":210.4,"v":6209},{"i":213.7,"v":6189},{"i":217.6,"v":6164},{"i":220.4,"v":6151},{"i":224,"v":6142},{"i":226,"v":6138}
],
"t":[
{"i":0.725,"v":6797,"t":"MA组合(5,10,20,40,60,250)","k":"y"},
{"i":42.2,"v":6797,"t":"MA5 5990.60","k":"w"},
{"i":61.5,"v":6797,"t":"MA10 5972.50","k":"y"},
{"i":82.5,"v":6797,"t":"MA20 5887.35","k":"m"},
{"i":103.5,"v":6797,"t":"MA40 5808.45","k":"g"},
{"i":124.3,"v":6797,"t":"MA60 5834.88","k":"n"},
{"i":145.5,"v":6797,"t":"MA250 6138.47","k":"r"},
{"i":-0.4,"v":5473,"t":"227天","k":"y"}
],
"a":[
{"i":20,"v":6718.6,"t":"6684","k":"r"},
{"i":106,"v":6727,"t":"6696","k":"r"},
{"i":49,"v":5467,"t":"5502","k":"c"},
{"i":200,"v":5562,"t":"5597","k":"c"},
{"i":221,"v":6133,"t":"6100","k":"r"}
],
"h":[
{"i":-12.3,"v":6866,"t":"⊂⊃"},
{"i":-6.78,"v":6866,"t":"PVC加权(DCE  1340)"}
],
"r":[
{"i":-12.81,"i2":237.6,"v":6829.3,"v2":6829.3,"k":"line"},
{"i":-0.5,"i2":-0.5,"v":6829.3,"v2":5423,"k":"line"},
{"i":-0.5,"i2":237.6,"v":5438.8,"v2":5438.8,"k":"line"},
{"i":236.6,"i2":237.6,"v":6829,"v2":6814,"k":"line"},
{"i":234.4,"i2":237.6,"v":6010,"v2":6010,"k":"price"},
{"i":225.5,"i2":225.5,"v":5477,"v2":5438,"k":"cursor"}
]},
"layer":[
{"data":{"name":"c"},"mark":{"type":"rule","strokeWidth":1},"encoding":{
"x":{"field":"i","type":"quantitative","scale":{"domain":[-0.5625,237.5625],"nice":false,"zero":false,"padding":0},"axis":null},
"y":{"field":"l","type":"quantitative","scale":{"domain":[5437.8,6830.3],"nice":false,"zero":false},"axis":{"values":[6000,6500],"title":null}},
"y2":{"field":"h"},
"stroke":{"field":"d","type":"nominal","legend":null,"scale":{"domain":["up","down","flat"],"range":["#ff3232","#00f0f0","#ffffff"]}}}},
{"data":{"name":"c"},"mark":{"type":"bar","size":6,"strokeWidth":1},"encoding":{
"x":{"field":"i","type":"quantitative","scale":{"domain":[-0.5625,237.5625],"nice":false,"zero":false,"padding":0},"axis":null},
"y":{"field":"o","type":"quantitative","scale":{"domain":[5437.8,6830.3],"nice":false,"zero":false},"axis":{"values":[6000,6500],"title":null}},
"y2":{"field":"c"},
"fill":{"field":"d","type":"nominal","legend":null,"scale":{"domain":["up","down","flat"],"range":["#000000","#00f0f0","#ffffff"]}},
"stroke":{"field":"d","type":"nominal","legend":null,"scale":{"domain":["up","down","flat"],"range":["#ff3232","#00f0f0","#ffffff"]}}}},
{"data":{"name":"m60"},"mark":{"type":"line","color":"#808080","strokeWidth":1},"encoding":{"x":{"field":"i","type":"quantitative","scale":{"domain":[-0.5625,237.5625],"nice":false,"zero":false,"padding":0},"axis":null},"y":{"field":"v","type":"quantitative","scale":{"domain":[5437.8,6830.3],"nice":false,"zero":false},"axis":{"values":[6000,6500],"title":null}}}},
{"data":{"name":"m250"},"mark":{"type":"line","color":"#ff3232","strokeWidth":1},"encoding":{"x":{"field":"i","type":"quantitative","scale":{"domain":[-0.5625,237.5625],"nice":false,"zero":false,"padding":0},"axis":null},"y":{"field":"v","type":"quantitative","scale":{"domain":[5437.8,6830.3],"nice":false,"zero":false},"axis":{"values":[6000,6500],"title":null}}}},
{"data":{"name":"m40"},"mark":{"type":"line","color":"#00ff00","strokeWidth":1},"encoding":{"x":{"field":"i","type":"quantitative","scale":{"domain":[-0.5625,237.5625],"nice":false,"zero":false,"padding":0},"axis":null},"y":{"field":"v","type":"quantitative","scale":{"domain":[5437.8,6830.3],"nice":false,"zero":false},"axis":{"values":[6000,6500],"title":null}}}},
{"data":{"name":"c"},"mark":{"type":"line","color":"#ff00ff","strokeWidth":1},"encoding":{"x":{"field":"i","type":"quantitative","scale":{"domain":[-0.5625,237.5625],"nice":false,"zero":false,"padding":0},"axis":null},"y":{"field":"m20","type":"quantitative","scale":{"domain":[5437.8,6830.3],"nice":false,"zero":false},"axis":{"values":[6000,6500],"title":null}}}},
{"data":{"name":"c"},"mark":{"type":"line","color":"#f0f000","strokeWidth":1},"encoding":{"x":{"field":"i","type":"quantitative","scale":{"domain":[-0.5625,237.5625],"nice":false,"zero":false,"padding":0},"axis":null},"y":{"field":"m10","type":"quantitative","scale":{"domain":[5437.8,6830.3],"nice":false,"zero":false},"axis":{"values":[6000,6500],"title":null}}}},
{"data":{"name":"c"},"mark":{"type":"line","color":"#ffffff","strokeWidth":1},"encoding":{"x":{"field":"i","type":"quantitative","scale":{"domain":[-0.5625,237.5625],"nice":false,"zero":false,"padding":0},"axis":null},"y":{"field":"m5","type":"quantitative","scale":{"domain":[5437.8,6830.3],"nice":false,"zero":false},"axis":{"values":[6000,6500],"title":null}}}},
{"data":{"name":"r"},"transform":[{"filter":"datum.k==='line'"}],"mark":{"type":"rule","color":"#c80000","strokeWidth":1},"encoding":{"x":{"field":"i","type":"quantitative","scale":{"domain":[-0.5625,237.5625],"nice":false,"zero":false,"padding":0},"axis":null},"x2":{"field":"i2"},"y":{"field":"v","type":"quantitative","scale":{"domain":[5437.8,6830.3],"nice":false,"zero":false},"axis":{"values":[6000,6500],"title":null}},"y2":{"field":"v2"}}},
{"data":{"name":"r"},"transform":[{"filter":"datum.k==='price'"}],"mark":{"type":"rule","color":"#f0f000","strokeWidth":1},"encoding":{"x":{"field":"i","type":"quantitative","scale":{"domain":[-0.5625,237.5625],"nice":false,"zero":false,"padding":0},"axis":null},"x2":{"field":"i2"},"y":{"field":"v","type":"quantitative","scale":{"domain":[5437.8,6830.3],"nice":false,"zero":false},"axis":{"values":[6000,6500],"title":null}},"y2":{"field":"v2"}}},
{"data":{"name":"r"},"transform":[{"filter":"datum.k==='cursor'"}],"mark":{"type":"rule","color":"#a0a0a0","strokeWidth":1},"encoding":{"x":{"field":"i","type":"quantitative","scale":{"domain":[-0.5625,237.5625],"nice":false,"zero":false,"padding":0},"axis":null},"x2":{"field":"i2"},"y":{"field":"v","type":"quantitative","scale":{"domain":[5437.8,6830.3],"nice":false,"zero":false},"axis":{"values":[6000,6500],"title":null}},"y2":{"field":"v2"}}},
{"data":{"name":"t"},"mark":{"type":"text","align":"left","baseline":"middle","font":"Liberation Sans, Noto Sans CJK SC","fontSize":23},"encoding":{"x":{"field":"i","type":"quantitative","scale":{"domain":[-0.5625,237.5625],"nice":false,"zero":false,"padding":0},"axis":null},"y":{"field":"v","type":"quantitative","scale":{"domain":[5437.8,6830.3],"nice":false,"zero":false},"axis":{"values":[6000,6500],"title":null}},"text":{"field":"t"},"color":{"field":"k","type":"nominal","legend":null,"scale":{"domain":["w","y","m","g","n","r","c"],"range":["#ffffff","#e6e600","#ff00ff","#00ff00","#808080","#ff3232","#00f0f0"]}}}},
{"data":{"name":"a"},"mark":{"type":"text","align":"center","baseline":"middle","font":"Liberation Sans","fontSize":23},"encoding":{"x":{"field":"i","type":"quantitative","scale":{"domain":[-0.5625,237.5625],"nice":false,"zero":false,"padding":0},"axis":null},"y":{"field":"v","type":"quantitative","scale":{"domain":[5437.8,6830.3],"nice":false,"zero":false},"axis":{"values":[6000,6500],"title":null}},"text":{"field":"t"},"color":{"field":"k","type":"nominal","legend":null,"scale":{"domain":["w","y","m","g","n","r","c"],"range":["#ffffff","#e6e600","#ff00ff","#00ff00","#808080","#ff3232","#00f0f0"]}}}},
{"data":{"name":"h"},"mark":{"type":"text","align":"left","baseline":"middle","font":"Liberation Mono, Noto Sans CJK SC","fontSize":19,"color":"#c8c8c8"},"encoding":{"x":{"field":"i","type":"quantitative","scale":{"domain":[-0.5625,237.5625],"nice":false,"zero":false,"padding":0},"axis":null},"y":{"field":"v","type":"quantitative","scale":{"domain":[5437.8,6830.3],"nice":false,"zero":false},"axis":{"values":[6000,6500],"title":null}},"text":{"field":"t"}}},
{"data":{"values":[{"i":22.1,"v":6860,"t":"日线"}]},"mark":{"type":"text","align":"left","baseline":"middle","font":"Noto Sans CJK SC","fontSize":20,"color":"#c8c8c8"},"encoding":{"x":{"field":"i","type":"quantitative","scale":{"domain":[-0.5625,237.5625],"nice":false,"zero":false,"padding":0},"axis":null},"y":{"field":"v","type":"quantitative","scale":{"domain":[5437.8,6830.3],"nice":false,"zero":false},"axis":{"values":[6000,6500],"title":null}},"text":{"field":"t"}}},
{"data":{"values":[{"i":28.2,"v":6847,"t":"﹀","k":"w"},{"i":37.4,"v":6772,"t":"﹀","k":"y"}]},"mark":{"type":"text","align":"left","baseline":"middle","font":"Noto Sans CJK SC","fontSize":18},"encoding":{"x":{"field":"i","type":"quantitative","scale":{"domain":[-0.5625,237.5625],"nice":false,"zero":false,"padding":0},"axis":null},"y":{"field":"v","type":"quantitative","scale":{"domain":[5437.8,6830.3],"nice":false,"zero":false},"axis":{"values":[6000,6500],"title":null}},"text":{"field":"t"},"color":{"field":"k","type":"nominal","legend":null,"scale":{"domain":["w","y","m","g","n","r","c"],"range":["#ffffff","#e6e600","#ff00ff","#00ff00","#808080","#ff3232","#00f0f0"]}}}}
]}
